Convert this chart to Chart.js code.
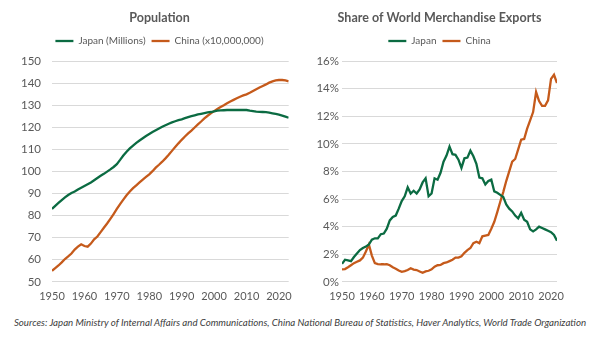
<!DOCTYPE html>
<html>
<head>
<meta charset="utf-8">
<script src="https://cdn.jsdelivr.net/npm/chart.js@4.4.1/dist/chart.umd.min.js"></script>
<style>
  body { margin: 0; background: #fff; width: 600px; height: 339px; overflow: hidden; position: relative; }
  #popWrap { position: absolute; left: 0; top: 0; width: 300px; height: 311px; }
  #expWrap { position: absolute; left: 300px; top: 0; width: 300px; height: 311px; }
  #sources { position: absolute; left: 0; top: 316px; width: 600px; text-align: center;
             font: italic 9.7px Lato, sans-serif; color: #404040; }
</style>
</head>
<body>
<div id="popWrap"><canvas id="chart_pop" width="300" height="311"></canvas></div>
<div id="expWrap"><canvas id="chart_exp" width="300" height="311"></canvas></div>
<div id="sources">Sources: Japan Ministry of Internal Affairs and Communications, China National Bureau of Statistics, Haver Analytics, World Trade Organization</div>
<script>
var GREEN = "#0b6b42";
var ORANGE = "#c55a1b";
var GREY_TEXT = "#595959";
var GRID = "#d9d9d9";

// population, 1950-2023
var popYears = [];
for (var y = 1950; y <= 2023; y++) popYears.push(y);
var japanPop = [
  83.0, 84.4, 85.7, 87.0, 88.2, 89.3, 90.2, 90.9, 91.8, 92.6,
  93.4, 94.2, 95.0, 96.0, 97.0, 98.0, 98.9, 99.9, 100.9, 102.0,
  103.3, 105.2, 107.2, 108.9, 110.4, 111.7, 112.9, 114.0, 115.0, 116.0,
  116.9, 117.8, 118.6, 119.4, 120.2, 120.9, 121.6, 122.2, 122.7, 123.2,
  123.6, 124.1, 124.6, 125.0, 125.4, 125.8, 126.1, 126.4, 126.7, 126.9,
  127.2, 127.5, 127.6, 127.7, 127.8, 127.8, 127.8, 127.8, 127.8, 127.8,
  127.8, 127.5, 127.3, 127.1, 127.0, 126.9, 126.8, 126.6, 126.3, 126.0,
  125.7, 125.3, 124.8, 124.3
];
var chinaPop = [
  55.0, 56.2, 57.4, 58.8, 60.3, 61.5, 62.8, 64.6, 65.9, 67.0,
  66.2, 65.9, 67.3, 69.2, 70.5, 72.5, 74.5, 76.4, 78.5, 80.7,
  83.0, 85.2, 87.2, 89.2, 90.9, 92.4, 93.7, 95.0, 96.3, 97.5,
  98.7, 100.1, 101.7, 103.0, 104.4, 105.9, 107.5, 109.3, 111.0, 112.7,
  114.3, 115.8, 117.2, 118.5, 119.9, 121.3, 122.6, 124.0, 125.2, 126.3,
  127.3, 128.3, 129.2, 130.0, 130.9, 131.7, 132.4, 133.1, 133.8, 134.4,
  134.9, 135.6, 136.4, 137.2, 138.0, 138.7, 139.4, 140.2, 140.8, 141.2,
  141.4, 141.4, 141.2, 140.8
];

// share of world merchandise exports (%), 1950-2022
var expYears = [];
for (var y2 = 1950; y2 <= 2022; y2++) expYears.push(y2);
var japanExp = [
  1.3, 1.6, 1.55, 1.5, 1.8, 2.05, 2.3, 2.45, 2.55, 2.7,
  3.05, 3.15, 3.15, 3.45, 3.5, 3.85, 4.45, 4.7, 4.8, 5.3,
  5.85, 6.2, 6.85, 6.4, 6.6, 6.4, 6.7, 7.2, 7.5, 6.2,
  6.4, 7.5, 7.4, 7.9, 8.7, 9.15, 9.8, 9.25, 9.2, 8.85,
  8.25, 8.95, 9.0, 9.5, 9.1, 8.55, 7.55, 7.5, 7.05, 7.3,
  7.4, 6.55, 6.45, 6.3, 6.15, 5.6, 5.3, 5.1, 4.8, 4.6,
  5.0, 4.5, 4.35, 3.8, 3.65, 3.8, 4.0, 3.9, 3.8, 3.7,
  3.6, 3.4, 2.97
];
var chinaExp = [
  0.9, 0.92, 1.05, 1.2, 1.35, 1.45, 1.55, 1.75, 2.2, 2.7,
  1.9, 1.35, 1.28, 1.27, 1.27, 1.28, 1.2, 1.05, 0.95, 0.82,
  0.72, 0.78, 0.85, 0.98, 0.88, 0.85, 0.75, 0.65, 0.75, 0.8,
  0.9, 1.1, 1.2, 1.22, 1.35, 1.4, 1.5, 1.6, 1.75, 1.75,
  1.85, 2.1, 2.3, 2.45, 2.8, 2.9, 2.8, 3.3, 3.35, 3.4,
  3.85, 4.35, 5.05, 5.8, 6.5, 7.3, 8.0, 8.7, 8.9, 9.6,
  10.3, 10.35, 11.1, 11.7, 12.3, 13.75, 13.1, 12.75, 12.75, 13.15,
  14.7, 15.0, 14.4
];

var decadeTicks = [1950, 1960, 1970, 1980, 1990, 2000, 2010, 2020];

function toXY(xs, ys) {
  return ys.map(function (v, i) { return { x: xs[i], y: v }; });
}

// push the plot area down a bit below the legend
var legendGap = {
  id: "legendGap",
  beforeInit: function (chart) {
    var fit = chart.legend.fit;
    chart.legend.fit = function () {
      fit.bind(chart.legend)();
      this.height += 5;
    };
  }
};

// slide title and legend sideways, they are not centred on the canvas
var headerShift = {
  id: "headerShift",
  afterLayout: function (chart, args, opts) {
    var dx = opts.dx || 0;
    [chart.titleBlock, chart.legend].forEach(function (b) {
      b.left += dx;
      b.right += dx;
    });
  }
};

function lineChart(canvasId, title, names, xs, seriesA, seriesB, xMax, yOpts, pad) {
  var ctx = document.getElementById(canvasId).getContext("2d");
  return new Chart(ctx, {
    type: "line",
    data: {
      datasets: [
        { label: names[0], data: toXY(xs, seriesA), borderColor: GREEN, backgroundColor: GREEN,
          borderWidth: 2.3, pointRadius: 0, tension: 0 },
        { label: names[1], data: toXY(xs, seriesB), borderColor: ORANGE, backgroundColor: ORANGE,
          borderWidth: 2.3, pointRadius: 0, tension: 0 }
      ]
    },
    options: {
      responsive: false,
      animation: false,
      layout: { padding: { left: 0, right: pad.right, top: 0, bottom: 0 } },
      plugins: {
        headerShift: { dx: pad.dx },
        title: {
          display: true, text: title, color: GREY_TEXT,
          font: { family: "Lato", size: 12.5, weight: "bold" },
          padding: { top: 10, bottom: 5 }
        },
        legend: {
          labels: {
            color: GREY_TEXT, font: { family: "Lato", size: 10 },
            usePointStyle: true, pointStyle: "line", pointStyleWidth: 18,
            boxHeight: 10, padding: 6
          }
        },
        tooltip: { enabled: false }
      },
      scales: {
        x: {
          type: "linear", min: 1950, max: xMax,
          grid: { display: false, drawTicks: false },
          border: { display: false },
          afterBuildTicks: function (s) { s.ticks = decadeTicks.map(function (v) { return { value: v }; }); },
          ticks: {
            color: GREY_TEXT, font: { family: "Lato", size: 11 }, padding: 8,
            maxRotation: 0, autoSkip: false,
            callback: function (v) { return String(v); }
          }
        },
        y: {
          min: yOpts.min, max: yOpts.max,
          grid: { color: GRID, lineWidth: 1, drawTicks: false },
          border: { display: false },
          afterFit: function (s) { s.width = pad.axis; },
          ticks: {
            stepSize: yOpts.step, color: GREY_TEXT, font: { family: "Lato", size: 11.5 },
            padding: yOpts.tickPad, callback: yOpts.fmt
          }
        }
      }
    },
    plugins: [legendGap, headerShift]
  });
}

lineChart("chart_pop", "Population", ["Japan (Millions)", "China (x10,000,000)"],
  popYears, japanPop, chinaPop, 2023,
  { min: 50, max: 150, step: 10, tickPad: 11, fmt: function (v) { return v; } },
  { right: 7, axis: 52, dx: 13 });

lineChart("chart_exp", "Share of World Merchandise Exports", ["Japan", "China"],
  expYears, japanExp, chinaExp, 2022,
  { min: 0, max: 16, step: 2, tickPad: 3, fmt: function (v) { return v + "%"; } },
  { right: 43, axis: 42, dx: 11 });
</script>
</body>
</html>
